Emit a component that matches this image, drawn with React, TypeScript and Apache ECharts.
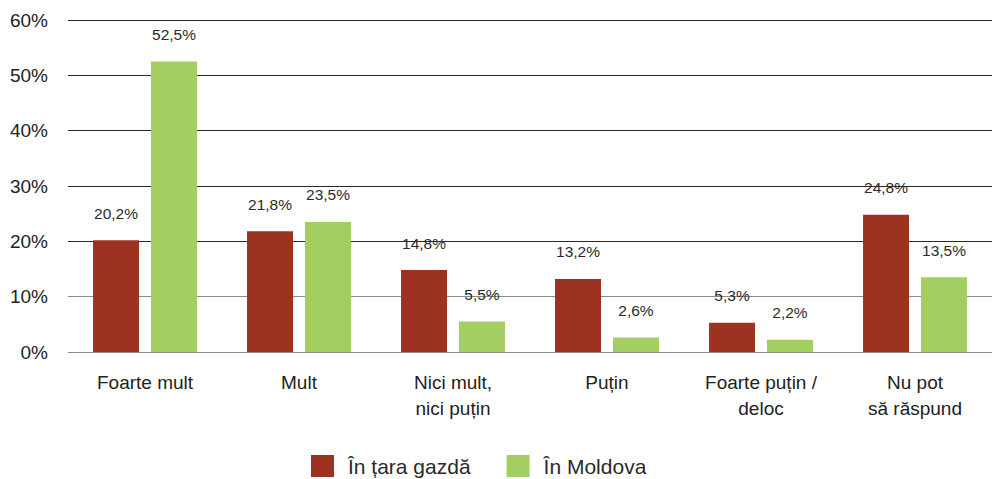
import React, { useEffect, useRef } from "react";
import * as echarts from "echarts";

const categories = ["Foarte mult", "Mult", "Nici mult,\nnici puțin", "Puțin", "Foarte puțin /\ndeloc", "Nu pot\nsă răspund"];
const seriesNames = ["În țara gazdă", "În Moldova"];
const hostValues = [20.2, 21.8, 14.8, 13.2, 5.3, 24.8];
const moldovaValues = [52.5, 23.5, 5.5, 2.6, 2.2, 13.5];
const yTicks = [0, 10, 20, 30, 40, 50, 60];

export default function App() {
  const ref = useRef<HTMLDivElement>(null);
  useEffect(() => {
    if (!ref.current) return;
    const chart = echarts.init(ref.current, undefined, { renderer: "svg" });
    const labelCfg = {
      show: true,
      position: "top",
      distance: 19,
      fontFamily: "Liberation Sans Narrow, Liberation Sans, Arial",
      fontSize: 15.5,
      color: "#2a2a2a",
      formatter: (p: any) => String(p.value).replace(".", ",") + "%",
    };
    chart.setOption({
      animation: false,
      backgroundColor: "#ffffff",
      grid: { left: 68, right: 2, top: 20, bottom: 127 },
      legend: {
        data: seriesNames,
        left: 311,
        top: 455,
        padding: 0,
        itemWidth: 23,
        itemHeight: 22,
        itemGap: 36,
        icon: "rect",
        textStyle: {
          fontFamily: "Liberation Sans, Arial",
          fontSize: 21,
          lineHeight: 22,
          color: "#2a2a2a",
          padding: [0, 0, 0, 9],
        },
      },
      xAxis: {
        type: "category",
        data: categories,
        axisLine: { show: false },
        axisTick: { show: false },
        axisLabel: {
          fontFamily: "Liberation Sans, Arial",
          fontSize: 19,
          lineHeight: 26,
          color: "#222",
          margin: 17,
          interval: 0,
        },
      },
      yAxis: {
        type: "value",
        min: yTicks[0],
        max: yTicks[yTicks.length - 1],
        interval: 10,
        axisLine: { show: false },
        axisTick: { show: false },
        axisLabel: {
          formatter: "{value}%",
          fontFamily: "Liberation Sans, Arial",
          fontSize: 19,
          color: "#222",
          margin: 20,
        },
        splitLine: {
          lineStyle: {
            color: ["#8a8a8a", "#8a8a8a", "#2a2a2a", "#2a2a2a", "#2a2a2a", "#2a2a2a", "#2a2a2a"],
            width: 1,
          },
        },
      },
      series: [
        {
          name: seriesNames[0],
          type: "bar",
          data: hostValues,
          barWidth: 46,
          barGap: "26%",
          itemStyle: { color: "#9E3222" },
          label: labelCfg,
        },
        {
          name: seriesNames[1],
          type: "bar",
          data: moldovaValues,
          barWidth: 46,
          barGap: "26%",
          itemStyle: { color: "#A3CE62" },
          label: labelCfg,
        },
      ],
    });
    return () => chart.dispose();
  }, []);
  return (
    <div
      ref={ref}
      style={{ position: "absolute", left: 0, top: 0, width: 994, height: 479 }}
    />
  );
}
